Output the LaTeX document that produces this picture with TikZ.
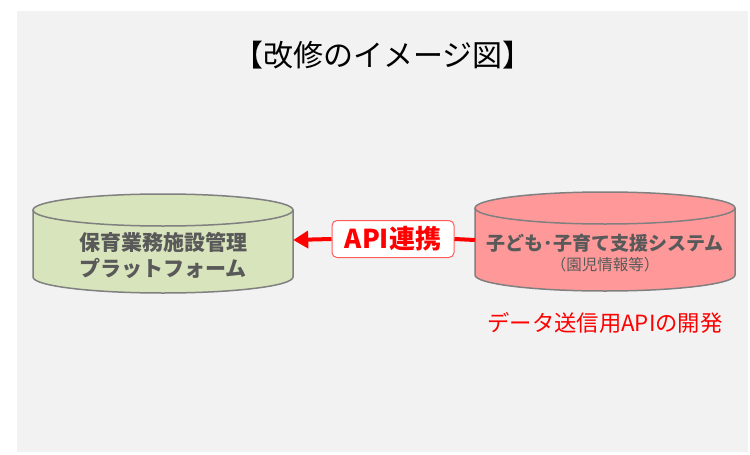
\documentclass[tikz,border=0pt]{standalone}
\usepackage{fontspec}
\newfontfamily\jp{Noto Sans CJK JP}
\usetikzlibrary{arrows.meta}
\definecolor{bg}{HTML}{F2F2F2}
\definecolor{cylgreen}{HTML}{D8E4BC}
\definecolor{cylpink}{HTML}{FF9999}
\definecolor{cylborder}{HTML}{808080}
\definecolor{txtgray}{HTML}{595959}
\definecolor{boxred}{HTML}{FF5B5B}
\tikzset{
  cylline/.style={draw=cylborder, line width=1.5pt},
  cyltext/.style={font=\jp\bfseries\fontsize{21}{24}\selectfont, text=txtgray, inner sep=0pt},
  anchorbox/.style={inner sep=0pt, minimum width=260pt, minimum height=100pt},
  link/.style={draw=red, line width=4pt},
}
\newcommand{\mycyl}[4]{% cx, topcy, botcy, fill
  \fill[#4] (#1-130,#2) -- (#1-130,#3) arc[start angle=180, end angle=360, x radius=130pt, y radius=16pt] -- (#1+130,#2) -- cycle;
  \draw[cylline] (#1-130,#2) -- (#1-130,#3) arc[start angle=180, end angle=360, x radius=130pt, y radius=16pt] -- (#1+130,#2);
  \draw[cylline, fill=#4] (#1,#2) ellipse[x radius=130pt, y radius=16pt];
}
\begin{document}
\begin{tikzpicture}[x=1pt,y=-1pt]
\useasboundingbox (0,0) rectangle (750,455);
\fill[bg] (17,11) rectangle (748,452);
\node[font=\jp\fontsize{30}{33}\selectfont, inner sep=0pt] (title) at (383,55) {【改修のイメージ図】};
% left cylinder
\mycyl{163}{210}{277}{cylgreen}
\node[anchorbox] (leftcyl) at (163,240) {};
\node[cyltext] (l1) at (163,242) {保育業務施設管理};
\node[cyltext] (l2) at (163,268) {プラットフォーム};
% right cylinder
\mycyl{605}{208}{275}{cylpink}
\node[anchorbox] (rightcyl) at (605,240) {};
\node[cyltext, font=\jp\bfseries\fontsize{19}{22}\selectfont] (r1) at (605,243) {子ども･子育て支援システム};
\node[font=\jp\fontsize{15.5}{18}\selectfont, text=txtgray, inner sep=0pt] (r2) at (605,265) {（園児情報等）};
\node[font=\jp\fontsize{22.3}{26}\selectfont, text=red, inner sep=0pt] (dev) at (605,323) {データ送信用APIの開発};
% API box
\node[draw=boxred, line width=1pt, fill=white, rounded corners=5pt, minimum width=122pt, minimum height=37pt, inner sep=0pt, font=\jp\bfseries\fontsize{26}{30}\selectfont, text=red] (api) at (393,239) {API連携};
\draw[link, -{Triangle[length=15pt,width=17pt]}] (api.west) -- (leftcyl.east);
\draw[link] (rightcyl.west) -- (api.east);
\end{tikzpicture}
\end{document}
